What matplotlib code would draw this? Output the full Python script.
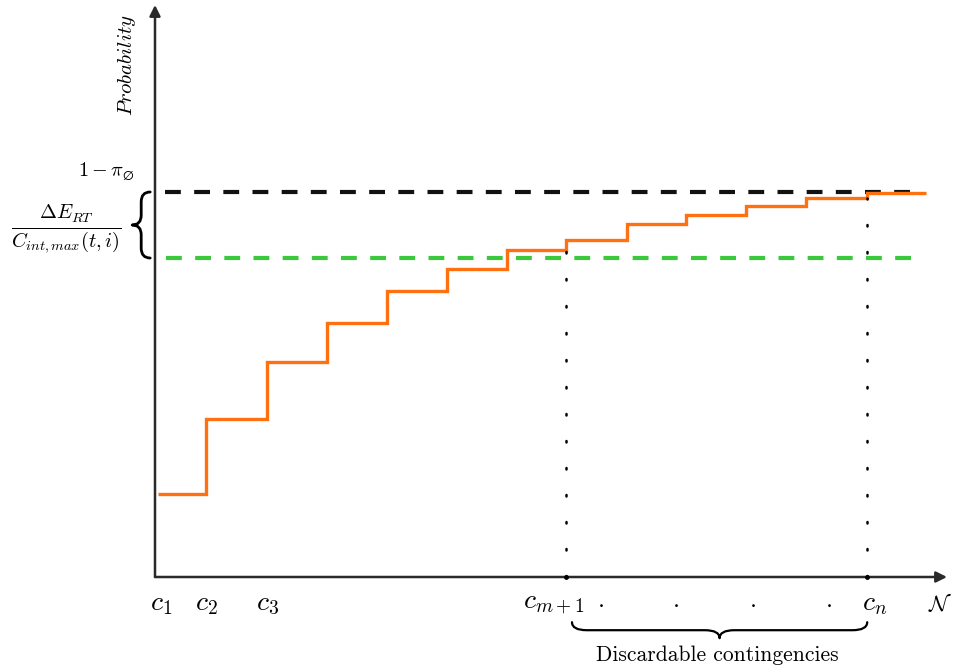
import numpy as np
import matplotlib
matplotlib.use("Agg")
import matplotlib.pyplot as plt
from matplotlib.path import Path
from matplotlib.patches import PathPatch

plt.rcParams.update({
    "mathtext.fontset": "cm",
    "font.family": "serif",
    "font.serif": ["cmr10", "DejaVu Serif"],
    "axes.formatter.use_mathtext": True,
})

# ── data ──────────────────────────────────────────────────────────────
# step edges along the contingency axis and cumulative probability levels
step_x = [0.05, 0.85, 1.87, 2.87, 3.87, 4.87, 5.87, 6.85, 7.87, 8.85, 9.85, 10.85, 11.87, 12.85]
step_y = [0.2075, 0.395, 0.5375, 0.635, 0.715, 0.77, 0.8175, 0.8425,
          0.8825, 0.905, 0.9275, 0.9475, 0.96]
level_black = 0.9625   # 1 - pi_0
level_green = 0.7975   # dE_RT / C_int,max(t,i)
tick_idx = [0, 1, 2, 7, 12]
tick_labels = [r"$c_1$", r"$c_2$", r"$c_3$", r"$c_{m+1}$", r"$c_n$"]
tick_shift = [0.05, 0.0, 0.0, -0.2, 0.13]
dots_x = [7.42, 8.68, 9.95, 11.22]

ORANGE = "#ff7010"
GREEN = "#3cc83c"
AXIS = "#2a2a2a"


def brace(ax, p0, p1, depth, horizontal=True, lw=1.6, color="black", frac=0.05):
    """Curly brace between p0 and p1; depth is signed (data units)."""
    if horizontal:
        (x0, y), (x1, _) = p0, p1
        xm = (x0 + x1) / 2
        a = (x1 - x0) * frac
        yh = y + depth / 2
        verts = [(x0, y), (x0, yh), (x0 + a, yh), (xm - a, yh), (xm, yh), (xm, y + depth),
                 (xm, yh), (xm + a, yh), (x1 - a, yh), (x1, yh), (x1, y)]
    else:
        (x, y0), (_, y1) = p0, p1
        ym = (y0 + y1) / 2
        a = (y1 - y0) * frac
        xh = x + depth / 2
        verts = [(x, y0), (xh, y0), (xh, y0 + a), (xh, ym - a), (xh, ym), (x + depth, ym),
                 (xh, ym), (xh, ym + a), (xh, y1 - a), (xh, y1), (x, y1)]
    codes = [Path.MOVETO, Path.CURVE3, Path.CURVE3, Path.LINETO, Path.CURVE3, Path.CURVE3,
             Path.CURVE3, Path.CURVE3, Path.LINETO, Path.CURVE3, Path.CURVE3]
    ax.add_patch(PathPatch(Path(verts, codes), fill=False, lw=lw, color=color,
                           capstyle="round", joinstyle="round"))


fig = plt.figure(figsize=(9.54, 6.70), dpi=100)
ax = fig.add_axes([0, 0, 1, 1])
ax.set_xlim(-155 / 60, 799 / 60)
ax.set_ylim(-93 / 400, 577 / 400)
ax.axis("off")

# axes with arrows
ax.annotate("", xy=(13.2, 0), xytext=(0, 0),
            arrowprops=dict(arrowstyle="-|>", color=AXIS, lw=1.8, mutation_scale=16,
                            shrinkA=0, shrinkB=0))
ax.annotate("", xy=(0, 1.43), xytext=(0, 0),
            arrowprops=dict(arrowstyle="-|>", color=AXIS, lw=1.8, mutation_scale=16,
                            shrinkA=0, shrinkB=0))

# threshold lines
ax.plot([0.17, 12.75], [level_black] * 2, color="#111111", lw=3,
        linestyle=(0, (3.8, 3.2)), zorder=2)
ax.plot([0.18, 12.65], [level_green] * 2, color=GREEN, lw=3,
        linestyle=(0, (3.8, 3.2)), zorder=2)

# cumulative probability steps
ax.stairs(step_y, step_x, baseline=None, color=ORANGE, lw=2.4, zorder=3)

# dotted verticals at c_{m+1} and c_n
for k in (7, 12):
    ax.plot([step_x[k], step_x[k]], [0, step_y[k - 1]], color="black", lw=1.8,
            linestyle=(0, (0.6, 10.2)), dash_capstyle="round", zorder=4)
    ax.plot(step_x[k], 0, marker="o", ms=2.5, color="black", zorder=5)

# x labels
for i, lab, dx in zip(tick_idx, tick_labels, tick_shift):
    ax.text(step_x[i] + dx, -0.0675, lab, ha="center", va="center", fontsize=20)
for xd in dots_x:
    ax.text(xd, -0.0675, r"$\cdot$", ha="center", va="center", fontsize=18)
ax.text(13.08, -0.0675, r"$\mathcal{N}$", ha="center", va="center", fontsize=16)

brace(ax, (6.95, -0.113), (11.87, -0.113), -0.04, horizontal=True)
ax.text(9.38, -0.195, "Discardable contingencies", ha="center", va="center", fontsize=15.5)

# y side labels
ax.text(-0.47, 1.28, r"$Probability$", rotation=90, ha="center", va="center", fontsize=15)
ax.text(-0.34, 1.013, r"$1-\pi_{\varnothing}$", ha="right", va="center", fontsize=14.5)
ax.text(-0.55, 0.87, r"$\frac{\Delta E_{RT}}{C_{int,max}(t,i)}$", ha="right", va="center",
        fontsize=21)
brace(ax, (-0.08, 0.9625), (-0.08, 0.7975), -0.3, horizontal=False, lw=2.0, frac=0.15)

fig.savefig("out.png", dpi=100)
